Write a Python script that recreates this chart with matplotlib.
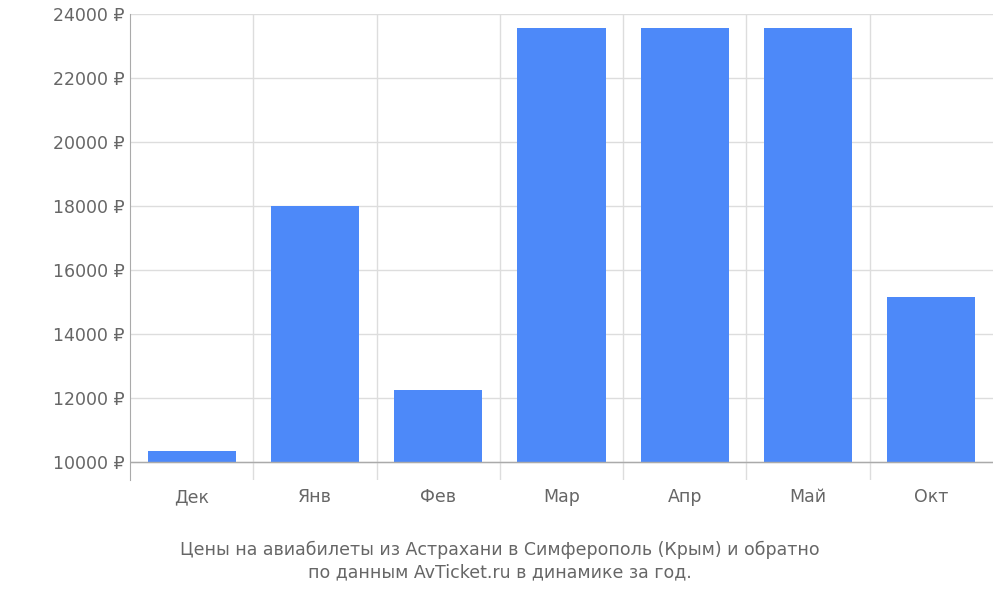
import matplotlib
matplotlib.use("Agg")
import matplotlib.pyplot as plt

categories = ["Дек", "Янв", "Фев", "Мар", "Апр", "Май", "Окт"]
prices = [10340, 18000, 12250, 23560, 23560, 23560, 15160]
yticks = [10000, 12000, 14000, 16000, 18000, 20000, 22000, 24000]
title = "Цены на авиабилеты из Астрахани в Симферополь (Крым) и обратно\nпо данным AvTicket.ru в динамике за год."

fig = plt.figure(figsize=(10, 6), dpi=100)
ax = fig.add_axes([0.13, 0.2, 0.863, 0.777])
base = 10000
x = list(range(len(categories)))
ax.bar(x, [p - base for p in prices], bottom=base, width=0.715, color="#4d89f9", zorder=3)
ax.set_xlim(-0.5, len(categories) - 0.5)
ax.set_ylim(9440, 24000)
ax.set_yticks(yticks)
ax.set_yticklabels([f"{v} ₽" for v in yticks])
ax.set_xticks([i + 0.5 for i in x[:-1]], minor=False)
ax.set_xticklabels([])
ax.set_xticks(x, minor=True)
ax.set_xticklabels(categories, minor=True)
ax.tick_params(axis="x", which="major", length=0)
ax.tick_params(axis="x", which="minor", length=0, pad=6)
ax.tick_params(axis="y", length=0, pad=4)
for lbl in ax.get_xticklabels(minor=True) + ax.get_yticklabels():
    lbl.set_color("#666666")
    lbl.set_fontsize(12.5)
ax.grid(True, axis="x", which="major", color="#dddddd", lw=1, zorder=0)
ax.grid(True, axis="y", color="#dddddd", lw=1, zorder=0)
ax.axhline(base, color="#aaaaaa", lw=1, zorder=4)
for s in ["top", "right", "bottom"]:
    ax.spines[s].set_visible(False)
ax.spines["left"].set_color("#aaaaaa")
fig.text(0.5, 0.065, title, ha="center", va="center", color="#666666", fontsize=12.5, linespacing=1.25)
fig.savefig("out.png")
